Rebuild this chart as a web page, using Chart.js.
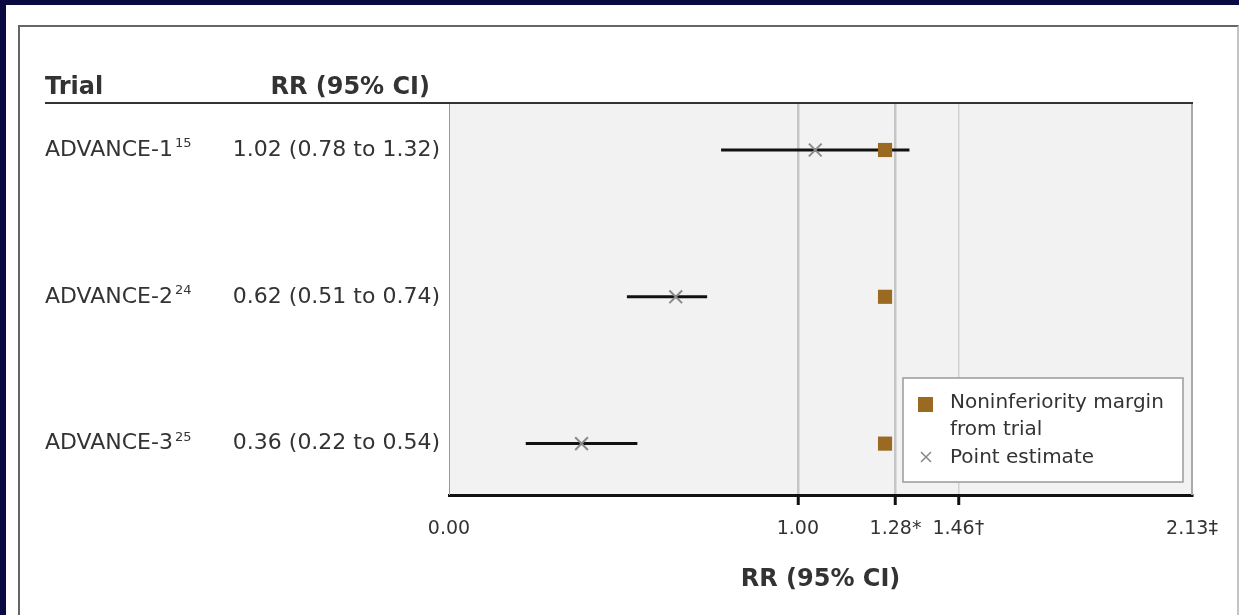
<!DOCTYPE html>
<html>
<head>
<meta charset="utf-8">
<script src="https://cdn.jsdelivr.net/npm/chart.js@4"></script>
<style>
  html, body { margin: 0; padding: 0; }
  body { width: 1239px; height: 615px; background: #0b0a40; position: relative; overflow: hidden; }
  .panel { position: absolute; left: 6px; top: 5px; right: 0; bottom: 0; background: #fff; }
  .frame { position: absolute; left: 18px; top: 25px; width: 1217px; height: 640px;
           border-left: 2px solid #666; border-top: 2px solid #666; border-right: 2px solid #c4c4c4; }
  canvas { position: absolute; left: 0; top: 0; }
</style>
</head>
<body>
<div class="panel"></div>
<div class="frame"></div>
<canvas id="myChart" width="1239" height="615"></canvas>
<script>
// dữ liệu của biểu đồ
var trials = ['ADVANCE-1', 'ADVANCE-2', 'ADVANCE-3'];
var refs = ['15', '24', '25'];
var rrText = ['1.02 (0.78 to 1.32)', '0.62 (0.51 to 0.74)', '0.36 (0.22 to 0.54)'];
var rowPos = [1, 2, 3];
var ciLow = [0.78, 0.51, 0.22];
var ciHigh = [1.32, 0.74, 0.54];
var pointEst = [1.05, 0.65, 0.38];   // vị trí dấu x
var margin = [1.25, 1.25, 1.25];
var tickVals = [0, 1, 1.28, 1.46, 2.13];
var tickLabels = ['0.00', '1.00', '1.28*', '1.46\u2020', '2.13\u2021'];
var gridVals = [1, 1.28, 1.46];

var FONT = '"DejaVu Sans", sans-serif';
var TXT = '#333';
var BROWN = '#9a6a22';

// đường CI cho từng trial
var ciSets = trials.map(function(t, i) {
  return {
    type: 'line',
    label: t,
    data: [{x: ciLow[i], y: rowPos[i]}, {x: ciHigh[i], y: rowPos[i]}],
    borderColor: '#111',
    borderWidth: 3,
    pointRadius: 0,
    order: 3
  };
});

var tablePlugin = {
  id: 'tablePlugin',
  beforeDraw: function(chart) {
    var c = chart.ctx, a = chart.chartArea;
    c.save();
    c.fillStyle = '#f2f2f2';
    c.fillRect(a.left, a.top, a.right - a.left, a.bottom - a.top);
    c.restore();
  },
  afterDatasetsDraw: function(chart) {
    var c = chart.ctx, a = chart.chartArea, y = chart.scales.y;
    c.save();
    // khung vùng vẽ
    c.strokeStyle = '#999'; c.lineWidth = 1;
    c.beginPath(); c.moveTo(a.left + 0.5, a.top); c.lineTo(a.left + 0.5, a.bottom); c.stroke();
    c.strokeStyle = '#aaa'; c.lineWidth = 2;
    c.beginPath(); c.moveTo(a.right, a.top); c.lineTo(a.right, a.bottom); c.stroke();
    c.strokeStyle = '#333'; c.lineWidth = 2;
    c.beginPath(); c.moveTo(45, a.top); c.lineTo(a.right + 1, a.top); c.stroke();

    // tiêu đề bảng
    c.fillStyle = TXT;
    c.textBaseline = 'middle';
    c.font = 'bold 24px ' + FONT;
    c.textAlign = 'left';
    c.fillText('Trial', 45, 88);
    c.textAlign = 'right';
    c.fillText('RR (95% CI)', 430, 88);

    // các dòng
    trials.forEach(function(t, i) {
      var py = y.getPixelForValue(rowPos[i]);
      c.font = '22px ' + FONT;
      c.textAlign = 'left';
      c.fillText(t, 45, py);
      var w = c.measureText(t).width;
      c.font = '13px ' + FONT;
      c.fillText(refs[i], 45 + w + 2, py - 6);
      c.font = '22px ' + FONT;
      c.textAlign = 'right';
      c.fillText(rrText[i], 440, py);
    });

    // chú thích
    var bx = a.right - 289, by = a.bottom - 117, bw = 280, bh = 104;
    c.fillStyle = '#fff';
    c.fillRect(bx, by, bw, bh);
    c.strokeStyle = '#9a9a9a'; c.lineWidth = 1.5;
    c.strokeRect(bx, by, bw, bh);
    c.fillStyle = BROWN;
    c.fillRect(bx + 15, by + 19, 15, 15);
    c.strokeStyle = '#888'; c.lineWidth = 1.5;
    c.beginPath();
    c.moveTo(bx + 18, by + 74); c.lineTo(bx + 28, by + 84);
    c.moveTo(bx + 28, by + 74); c.lineTo(bx + 18, by + 84);
    c.stroke();
    c.fillStyle = TXT;
    c.font = '20px ' + FONT;
    c.textAlign = 'left';
    c.fillText('Noninferiority margin', bx + 47, by + 25);
    c.fillText('from trial', bx + 47, by + 52);
    c.fillText('Point estimate', bx + 47, by + 80);
    c.restore();
  }
};

var ctx = document.getElementById('myChart').getContext('2d');
var myChart = new Chart(ctx, {
  data: {
    datasets: ciSets.concat([
      {
        type: 'scatter',
        label: 'Point estimate',
        data: pointEst.map(function(v, i) { return {x: v, y: rowPos[i]}; }),
        pointStyle: 'crossRot',
        pointRadius: 9,
        borderColor: '#8a8a8a',
        borderWidth: 2,
        order: 2
      },
      {
        type: 'scatter',
        label: 'Noninferiority margin from trial',
        data: margin.map(function(v, i) { return {x: v, y: rowPos[i]}; }),
        pointStyle: 'rect',
        pointRadius: 10,
        backgroundColor: BROWN,
        borderColor: BROWN,
        borderWidth: 0,
        order: 1
      }
    ])
  },
  options: {
    responsive: false,
    animation: false,
    layout: { padding: { left: 449, right: 47, top: 103, bottom: 0 } },
    plugins: { legend: { display: false }, tooltip: { enabled: false } },
    scales: {
      x: {
        type: 'linear',
        position: 'bottom',
        min: 0,
        max: 2.13,
        afterBuildTicks: function(s) { s.ticks = tickVals.map(function(v) { return {value: v}; }); },
        afterFit: function(s) { s.height = 120; },
        ticks: {
          autoSkip: false,
          maxRotation: 0,
          padding: 13,
          color: TXT,
          font: { family: FONT, size: 19 },
          callback: function(v, i) { return tickLabels[i]; }
        },
        grid: {
          drawOnChartArea: true,
          tickLength: 10,
          color: function(c) {
            if (!c.tick) return 'transparent';
            if (c.tick.value === 1.46) return '#d2d2d2';
            return gridVals.indexOf(c.tick.value) >= 0 ? '#c6c6c6' : 'transparent';
          },
          lineWidth: function(c) { return c.tick && c.tick.value === 1.46 ? 1.5 : 2.5; },
          tickColor: function(c) { return c.tick && gridVals.indexOf(c.tick.value) >= 0 ? '#111' : 'transparent'; },
          tickWidth: 3
        },
        border: { display: true, color: '#111', width: 3 },
        title: {
          display: true,
          text: 'RR (95% CI)',
          color: TXT,
          font: { family: FONT, size: 24, weight: 'bold' },
          padding: { top: 0, bottom: 21 }
        }
      },
      y: {
        type: 'linear',
        display: false,
        reverse: true,
        min: 0.68,
        max: 3.35
      }
    }
  },
  plugins: [tablePlugin]
});
</script>
</body>
</html>
